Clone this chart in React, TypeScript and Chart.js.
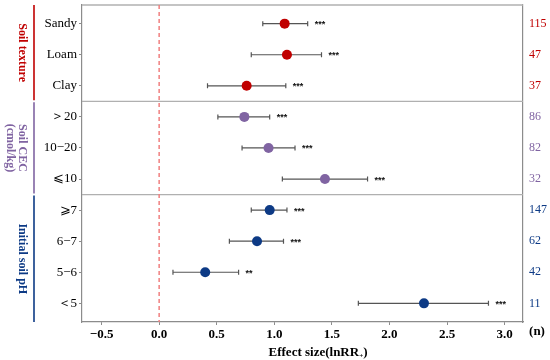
import React, { useEffect, useRef } from 'react';
import { Chart, registerables } from 'chart.js';

Chart.register(...registerables);

// ---- data ----
const categories = ['Sandy', 'Loam', 'Clay', '＞20', '10−20', '⩽10', '⩾7', '6−7', '5−6', '＜5'];
const rowGroup = [0, 0, 0, 1, 1, 1, 2, 2, 2, 2];
const means = [1.09, 1.11, 0.76, 0.74, 0.95, 1.44, 0.96, 0.85, 0.40, 2.30];
const lows = [0.90, 0.80, 0.42, 0.51, 0.72, 1.07, 0.80, 0.61, 0.12, 1.73];
const highs = [1.29, 1.41, 1.10, 0.96, 1.18, 1.81, 1.11, 1.08, 0.69, 2.86];
const sig = ['***', '***', '***', '***', '***', '***', '***', '***', '**', '***'];
const counts = ['115', '47', '37', '86', '82', '32', '147', '62', '42', '11'];
const groupLabels = [['Soil texture'], ['Soil CEC', '(cmol/kg)'], ['Initial soil pH']];
const groupColors = ['#C00000', '#8064A2', '#0D3A85'];

const SERIF = '"Liberation Serif", "Times New Roman", serif';

const fmtX = (v: number) => (Math.abs(v) < 1e-9 ? '0.0' : v.toFixed(1).replace('-', '−'));

const forestPlugin = {
  id: 'forest',
  beforeDatasetsDraw(chart: any) {
    const { ctx, chartArea, scales } = chart;
    const { left, right, top, bottom } = chartArea;
    const x = scales.x;
    const y = scales.y;
    ctx.save();
    // top border
    ctx.strokeStyle = '#B0B0B0';
    ctx.lineWidth = 1.5;
    ctx.beginPath();
    ctx.moveTo(left, top);
    ctx.lineTo(right, top);
    ctx.stroke();
    // group separators
    ctx.lineWidth = 1.2;
    for (let i = 1; i < rowGroup.length; i++) {
      if (rowGroup[i] !== rowGroup[i - 1]) {
        const py = y.getPixelForValue(i - 0.5);
        ctx.beginPath();
        ctx.moveTo(left, py);
        ctx.lineTo(right, py);
        ctx.stroke();
      }
    }
    // zero dashed line
    const x0 = x.getPixelForValue(0);
    ctx.strokeStyle = '#F07F7F';
    ctx.lineWidth = 1.5;
    ctx.setLineDash([4, 3]);
    ctx.beginPath();
    ctx.moveTo(x0, top);
    ctx.lineTo(x0, bottom);
    ctx.stroke();
    ctx.setLineDash([]);
    // error bars
    ctx.strokeStyle = '#555555';
    ctx.lineWidth = 1.2;
    for (let i = 0; i < means.length; i++) {
      const py = y.getPixelForValue(i);
      const xl = x.getPixelForValue(lows[i]);
      const xh = x.getPixelForValue(highs[i]);
      ctx.beginPath();
      ctx.moveTo(xl, py);
      ctx.lineTo(xh, py);
      ctx.moveTo(xl, py - 2.5);
      ctx.lineTo(xl, py + 2.5);
      ctx.moveTo(xh, py - 2.5);
      ctx.lineTo(xh, py + 2.5);
      ctx.stroke();
    }
    ctx.restore();
  },
  afterDatasetsDraw(chart: any) {
    const { ctx, scales } = chart;
    const x = scales.x;
    const y = scales.y;
    ctx.save();
    ctx.fillStyle = '#111';
    ctx.font = 'bold 9px "Liberation Sans", Arial, sans-serif';
    ctx.textAlign = 'left';
    ctx.textBaseline = 'alphabetic';
    for (let i = 0; i < means.length; i++) {
      ctx.fillText(sig[i], x.getPixelForValue(highs[i]) + 7, y.getPixelForValue(i) + 3.5);
    }
    ctx.restore();
  },
  afterDraw(chart: any) {
    const { ctx, chartArea, scales } = chart;
    const { top, bottom } = chartArea;
    const y = scales.y;
    ctx.save();
    // group side lines and labels
    for (let g = 0; g < groupLabels.length; g++) {
      const first = rowGroup.indexOf(g);
      const last = rowGroup.lastIndexOf(g);
      const yTop = first === 0 ? top : y.getPixelForValue(first - 0.5) + 1;
      const yBot = last === rowGroup.length - 1 ? bottom : y.getPixelForValue(last + 0.5) - 1;
      ctx.strokeStyle = groupColors[g];
      ctx.lineWidth = 1.6;
      ctx.beginPath();
      ctx.moveTo(34, yTop);
      ctx.lineTo(34, yBot);
      ctx.stroke();
      const cy = (yTop + yBot) / 2;
      ctx.save();
      ctx.translate(22, cy);
      ctx.rotate(Math.PI / 2);
      ctx.fillStyle = groupColors[g];
      ctx.font = `bold 12px ${SERIF}`;
      ctx.textAlign = 'center';
      ctx.textBaseline = 'middle';
      groupLabels[g].forEach((t, k) => ctx.fillText(t, 0, k * 12));
      ctx.restore();
    }
    // (n)
    ctx.fillStyle = '#000';
    ctx.font = `bold 13px ${SERIF}`;
    ctx.textAlign = 'center';
    ctx.textBaseline = 'middle';
    ctx.fillText('(n)', 537, 332);
    // x title with subscript
    const main = 'Effect size(lnRR';
    const sub = '+';
    const end = ')';
    ctx.font = `bold 13px ${SERIF}`;
    const wMain = ctx.measureText(main).width;
    const wEnd = ctx.measureText(end).width;
    ctx.font = `bold 7px ${SERIF}`;
    const wSub = ctx.measureText(sub).width;
    const total = wMain + wSub + wEnd;
    let sx = 318 - total / 2;
    const by = 356;
    ctx.textAlign = 'left';
    ctx.textBaseline = 'alphabetic';
    ctx.font = `bold 13px ${SERIF}`;
    ctx.fillText(main, sx, by);
    sx += wMain;
    ctx.font = `bold 7px ${SERIF}`;
    ctx.fillText(sub, sx, by + 2);
    sx += wSub;
    ctx.font = `bold 13px ${SERIF}`;
    ctx.fillText(end, sx, by);
    ctx.restore();
  },
};

export default function App() {
  const ref = useRef<HTMLCanvasElement>(null);
  useEffect(() => {
    if (!ref.current) return;
    const pointColors = rowGroup.map((g) => groupColors[g]);
    const rowTicks = (s: any) => {
      s.ticks = categories.map((_, i) => ({ value: i }));
    };
    const noPad = (s: any) => {
      s.paddingTop = 0;
      s.paddingBottom = 0;
      s.paddingLeft = 0;
      s.paddingRight = 0;
    };
    const chart = new Chart(ref.current, {
      type: 'scatter',
      data: {
        datasets: [
          {
            data: means.map((m, i) => ({ x: m, y: i })),
            pointBackgroundColor: pointColors,
            pointBorderColor: pointColors,
            pointRadius: 5,
            pointBorderWidth: 0,
          },
        ],
      },
      options: {
        animation: false,
        responsive: true,
        maintainAspectRatio: false,
        layout: { padding: { left: 40, right: 0, top: 4, bottom: 0 } },
        plugins: { legend: { display: false }, tooltip: { enabled: false } },
        scales: {
          x: {
            type: 'linear',
            min: -0.67,
            max: 3.16,
            afterFit: (s: any) => {
              s.height = 38;
              noPad(s);
            },
            ticks: {
              stepSize: 0.5,
              includeBounds: false,
              callback: (v: any) => fmtX(Number(v)),
              font: { family: SERIF, size: 13, weight: 'bold' },
              color: '#000',
              padding: 2,
              maxRotation: 0,
            },
            grid: { drawOnChartArea: false, tickLength: 3, color: '#8C8C8C' },
            border: { color: '#8C8C8C', width: 1.2 },
          },
          y: {
            type: 'linear',
            min: -0.6,
            max: 9.6,
            reverse: true,
            afterBuildTicks: rowTicks,
            afterFit: (s: any) => {
              s.width = 42;
              noPad(s);
            },
            ticks: {
              callback: (v: any) => categories[Math.round(Number(v))],
              font: { family: SERIF, size: 13 },
              color: '#000',
              padding: 2,
              autoSkip: false,
            },
            grid: { drawOnChartArea: false, tickLength: 3, color: '#8C8C8C' },
            border: { color: '#8C8C8C', width: 1.2 },
          },
          y2: {
            type: 'linear',
            position: 'right',
            min: -0.6,
            max: 9.6,
            reverse: true,
            afterBuildTicks: rowTicks,
            afterFit: (s: any) => {
              s.width = 27;
              noPad(s);
            },
            ticks: {
              callback: (v: any) => counts[Math.round(Number(v))],
              font: { family: SERIF, size: 12 },
              color: (c: any) => groupColors[rowGroup[c.index] ?? 0],
              padding: 6,
              autoSkip: false,
            },
            grid: { display: false, drawTicks: false },
            border: { display: true, color: '#8C8C8C', width: 1.2 },
          },
        },
      },
      plugins: [forestPlugin],
    });
    return () => chart.destroy();
  }, []);
  return (
    <div style={{ position: 'fixed', left: 0, top: 0, width: 550, height: 360 }}>
      <canvas ref={ref} />
    </div>
  );
}
